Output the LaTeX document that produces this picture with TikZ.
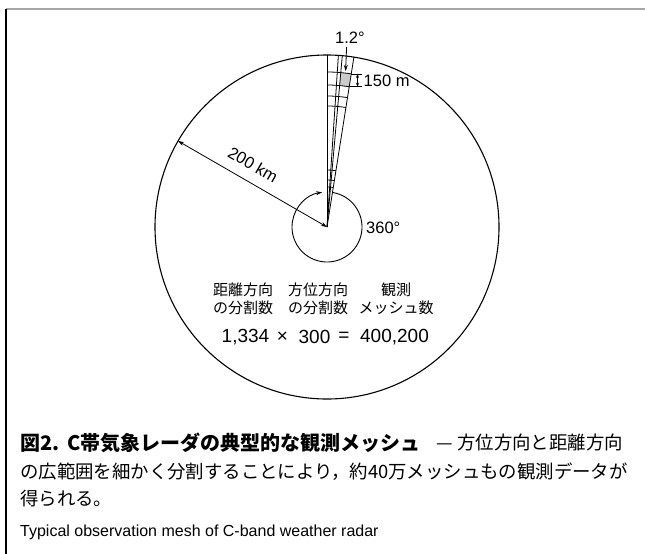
\documentclass[tikz,border=0pt]{standalone}
\usepackage{fontspec}
\setmainfont{Liberation Sans}
\newfontfamily\cjk{Noto Sans CJK JP}
\usetikzlibrary{calc,arrows.meta}
\begin{document}
\begin{tikzpicture}[x=1pt,y=-1pt,
  thinline/.style={line width=0.8pt},
  circ/.style={line width=1.1pt},
  lbl/.style={font=\fontsize{16.5}{18}\selectfont, inner sep=0pt},
  jlbl/.style={font=\cjk\fontsize{15}{18}\selectfont, inner sep=0pt, align=center},
  num/.style={font=\fontsize{19}{20}\selectfont, inner sep=0pt},
  captxt/.style={font=\cjk\fontsize{18.4}{20}\selectfont, inner sep=0pt},
  arr/.style={-{Stealth[length=6pt,width=4pt]}, line width=0.8pt},
  darr/.style={{Stealth[length=6pt,width=4pt]}-{Stealth[length=6pt,width=4pt]}, line width=0.8pt},
  sarr/.style={{Stealth[length=4pt,width=3pt]}-{Stealth[length=4pt,width=3pt]}, line width=0.7pt}]
\useasboundingbox (0,0) rectangle (645,554);
% frame
\draw[gray!70, line width=1.5pt] (6,9) -- (645,9);
\draw[line width=1.2pt] (6,9) -- (6,554);
% radar geometry
\coordinate (C) at (327,227);
\draw[circ] (C) circle[radius=172];
% highlighted cell
\fill[gray!40] ($(C)+(-84.9:142)$) arc[start angle=-84.9, end angle=-81, radius=142]
  -- ($(C)+(-81:155)$) arc[start angle=-81, end angle=-84.9, radius=155] -- cycle;
% radial lines
\foreach \a in {-90,-86.2,-84.9,-81}
  \draw[thinline] (C) -- ($(C)+(\a:172)$);
% range arcs
\foreach \r in {155,142,131,121,57,47,40}
  \draw[thinline] ($(C)+(-90:\r)$) arc[start angle=-90, end angle=-81, radius=\r];
% 360 degree arc
\draw[arr, line width=0.9pt] ($(C)+(-81:35)$) arc[start angle=-81, end angle=262, radius=35];
\node[lbl, anchor=west] (t360) at (366,228) {360°};
% 200 km
\coordinate (E) at ($(C)+(-150:172)$);
\draw[darr] (E) -- (C);
\node[lbl, rotate=-30] (t200) at (253,164.5) {200 km};
% 1.2 degree
\node[lbl] (t12) at (350,38) {1.2°};
\coordinate (a1) at (346.6,47);
\coordinate (a2) at (345.6,71);
\draw[arr] (a1) -- (a2);
% 150 m
\coordinate (p1) at ($(C)+(-81:155)$);
\coordinate (p2) at ($(C)+(-81:142)$);
\coordinate (q1) at (362,0 |- p1);
\coordinate (q2) at (362,0 |- p2);
\draw[line width=0.6pt] (p1) -- (p1 -| q1);
\draw[line width=0.6pt] (p2) -- (p2 -| q2);
\coordinate (m1) at (357.5,0 |- p1);
\coordinate (m2) at (357.5,0 |- p2);
\draw[sarr] (m1) -- (m2);
\node[lbl, anchor=west] (t150) at (363.5,81) {150 m};
% middle labels
\node[jlbl] (d1) at (243,299) {距離方向\\の分割数};
\node[jlbl] (d2) at (318,299) {方位方向\\の分割数};
\node[jlbl] (d3) at (396,299) {観測\\メッシュ数};
\node[num] (n1) at (245.5,337) {1,334};
\node[num] (nx) at (282.5,337) {×};
\node[num] (n2) at (314.5,337) {300};
\node[num] (neq) at (344,337) {=};
\node[num] (n3) at (394.5,337) {400,200};
% caption
\node[captxt, font=\cjk\fontsize{20}{22}\selectfont, anchor=west] (c1) at (20,443) {\bfseries 図2.\hspace{0.4em}C帯気象レーダの典型的な観測メッシュ};
\node[captxt, anchor=east] (c1b) at (623,443) {— 方位方向と距離方向};
\node[captxt, anchor=west] (c2) at (20,472) {の広範囲を細かく分割することにより，約40万メッシュもの観測データが};
\node[captxt, anchor=west] (c3) at (20,499) {得られる。};
\node[font=\fontsize{16}{18}\selectfont, inner sep=0pt, anchor=west] (c4) at (20,532) {Typical observation mesh of C-band weather radar};
\end{tikzpicture}
\end{document}
